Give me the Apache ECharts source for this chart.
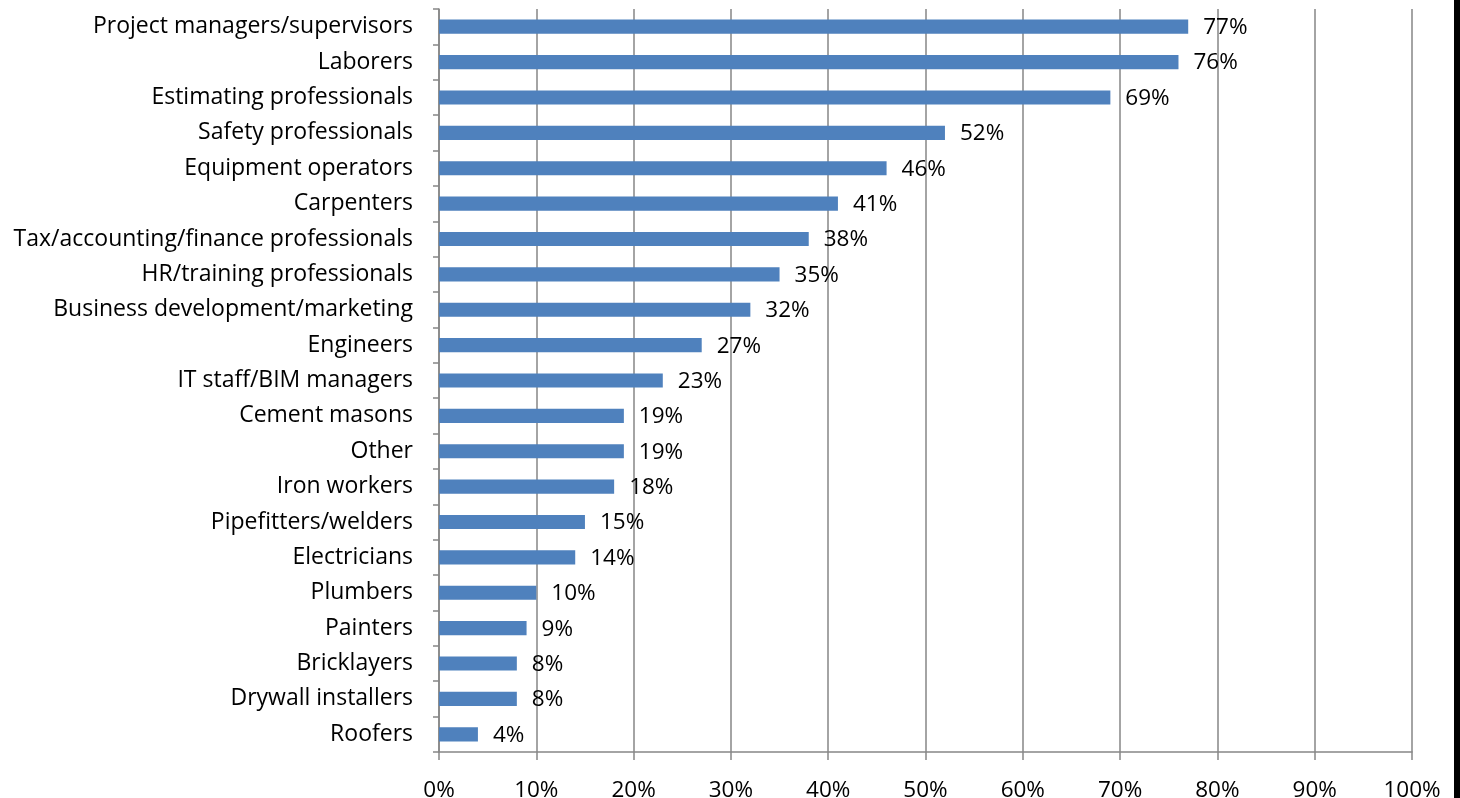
<!DOCTYPE html>
<html>
<head>
<meta charset="utf-8">
<script src="https://cdn.jsdelivr.net/npm/echarts@6/dist/echarts.min.js"></script>
<style>
html,body{margin:0;padding:0;background:#fff;}
#chart{width:1460px;height:798px;}
</style>
</head>
<body>
<div id="chart"></div>
<script>
const categories = [
  "Project managers/supervisors",
  "Laborers",
  "Estimating professionals",
  "Safety professionals",
  "Equipment operators",
  "Carpenters",
  "Tax/accounting/finance professionals",
  "HR/training professionals",
  "Business development/marketing",
  "Engineers",
  "IT staff/BIM managers",
  "Cement masons",
  "Other",
  "Iron workers",
  "Pipefitters/welders",
  "Electricians",
  "Plumbers",
  "Painters",
  "Bricklayers",
  "Drywall installers",
  "Roofers"
];
const values = [77, 76, 69, 52, 46, 41, 38, 35, 32, 27, 23, 19, 19, 18, 15, 14, 10, 9, 8, 8, 4];
const xTicks = [0, 10, 20, 30, 40, 50, 60, 70, 80, 90, 100];

const FONT = '"Open Sans", "Noto Sans", sans-serif';
const FS = 23;
const chart = echarts.init(document.getElementById('chart'), null, {renderer: 'canvas'});
chart.setOption({
  animation: false,
  backgroundColor: '#ffffff',
  grid: {left: 439, right: 48, top: 9, bottom: 46, containLabel: false, outerBoundsMode: 'none'},
  xAxis: {
    type: 'value',
    min: xTicks[0],
    max: xTicks[xTicks.length - 1],
    interval: 10,
    axisLine: {show: true, lineStyle: {color: '#868686', width: 1.5}},
    axisTick: {show: true, length: 8, lineStyle: {color: '#868686', width: 1.5}},
    splitLine: {show: true, lineStyle: {color: '#868686', width: 1.5}},
    axisLabel: {
      color: '#000', fontFamily: FONT, fontSize: 22.5, margin: 27,
      formatter: v => v + '%'
    }
  },
  yAxis: {
    type: 'category',
    data: categories,
    inverse: true,
    axisLine: {show: true, lineStyle: {color: '#868686', width: 1.5}},
    axisTick: {show: true, length: 6, inside: false, lineStyle: {color: '#868686', width: 1.5}},
    axisLabel: {color: '#000', fontFamily: FONT, fontSize: FS, margin: 26, padding: [0, 0, 3, 0]}
  },
  series: [{
    type: 'bar',
    data: values,
    barCategoryGap: '60%',
    itemStyle: {color: '#4F81BD'},
    label: {
      show: true, position: 'right', distance: 15,
      color: '#000', fontFamily: FONT, fontSize: 22.5,
      offset: [0, 1],
      formatter: p => p.value + '%'
    }
  }],
  graphic: [{
    type: 'rect',
    right: 0, top: 0,
    shape: {width: 6, height: 798},
    style: {fill: '#000'}
  }]
});
</script>
</body>
</html>
